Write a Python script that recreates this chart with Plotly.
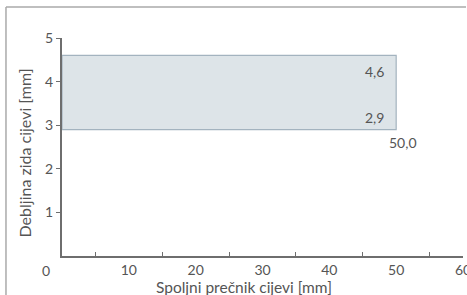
import plotly.graph_objects as go

# Data
x_start = 0
x_end = 50.0
y_min = 2.9
y_max = 4.6
x_major_ticks = [10, 20, 30, 40, 50, 60]
x_minor_ticks = [5, 15, 25, 35, 45, 55]
y_ticks = [1, 2, 3, 4, 5]
label_min = "2,9"
label_max = "4,6"
label_x = "50,0"
x_title = "Spoljni prečnik cijevi [mm]"
y_title = "Debljina zida cijevi [mm]"

font_family = "Lato, 'Open Sans', sans-serif"
txt = "#555555"
fs = 14

fig = go.Figure()
fig.add_trace(go.Scatter(
    x=[x_start, x_end, x_end, x_start, x_start],
    y=[y_min, y_min, y_max, y_max, y_min],
    mode="lines", fill="toself",
    fillcolor="#dde4e8",
    line=dict(color="#a3b3bf", width=1.2),
    hoverinfo="skip", showlegend=False,
))

fig.add_annotation(x=x_end, y=y_max, text=label_max, showarrow=False,
                   xanchor="right", yanchor="top", xshift=-10, yshift=-6,
                   font=dict(size=fs, color=txt, family=font_family))
fig.add_annotation(x=x_end, y=y_min, text=label_min, showarrow=False,
                   xanchor="right", yanchor="bottom", xshift=-10, yshift=2,
                   font=dict(size=fs, color=txt, family=font_family))
fig.add_annotation(x=x_end, y=y_min, text=label_x, showarrow=False,
                   xanchor="center", yanchor="top", xshift=7, yshift=-2,
                   font=dict(size=fs, color=txt, family=font_family))
fig.add_annotation(x=0, y=0, text="0", showarrow=False,
                   xanchor="center", yanchor="top", xshift=-16, yshift=-4,
                   font=dict(size=fs, color=txt, family=font_family))

# axis titles
fig.add_annotation(xref="paper", yref="paper", x=0.453, y=-0.142,
                   text=x_title, showarrow=False, xanchor="center", yanchor="middle",
                   font=dict(size=15.5, color=txt, family=font_family))
fig.add_annotation(xref="paper", yref="paper", x=-0.0948, y=0.475,
                   text=y_title, showarrow=False, textangle=-90,
                   xanchor="center", yanchor="middle",
                   font=dict(size=16, color=txt, family=font_family))

# outer frame lines (top and left)
fig.add_shape(type="line", xref="paper", yref="paper",
              x0=-0.1397, x1=1.0075, y0=1.142, y1=1.142,
              line=dict(color="#aaaaaa", width=1.5))
fig.add_shape(type="line", xref="paper", yref="paper",
              x0=-0.1397, x1=-0.1397, y0=1.142, y1=-0.2,
              line=dict(color="#aaaaaa", width=1.5))

fig.update_layout(
    width=467, height=295,
    margin=dict(l=62, r=4, t=38, b=39),
    plot_bgcolor="white", paper_bgcolor="white",
    font=dict(family=font_family, color=txt, size=fs),
    xaxis=dict(
        range=[0, 60], tickvals=x_major_ticks, ticks="", automargin=False,
        ticklabeloverflow="allow",
        showgrid=False, zeroline=False,
        showline=True, linecolor="#6e6e6e", linewidth=2,
        tickfont=dict(size=fs, color=txt),
        minor=dict(tickvals=x_minor_ticks, ticks="inside", ticklen=4,
                   tickcolor="#6e6e6e", tickwidth=1, showgrid=False),
    ),
    yaxis=dict(
        range=[0, 5], tickvals=y_ticks, ticks="outside", ticklen=4,
        tickcolor="#6e6e6e", tickwidth=1, automargin=False,
        showgrid=False, zeroline=False,
        showline=True, linecolor="#6e6e6e", linewidth=2,
        tickfont=dict(size=fs, color=txt),
    ),
)

fig.write_html(
    "out.html",
    config={"displayModeBar": False},
    post_script="document.body.style.margin='0';document.body.style.overflow='hidden';",
)
